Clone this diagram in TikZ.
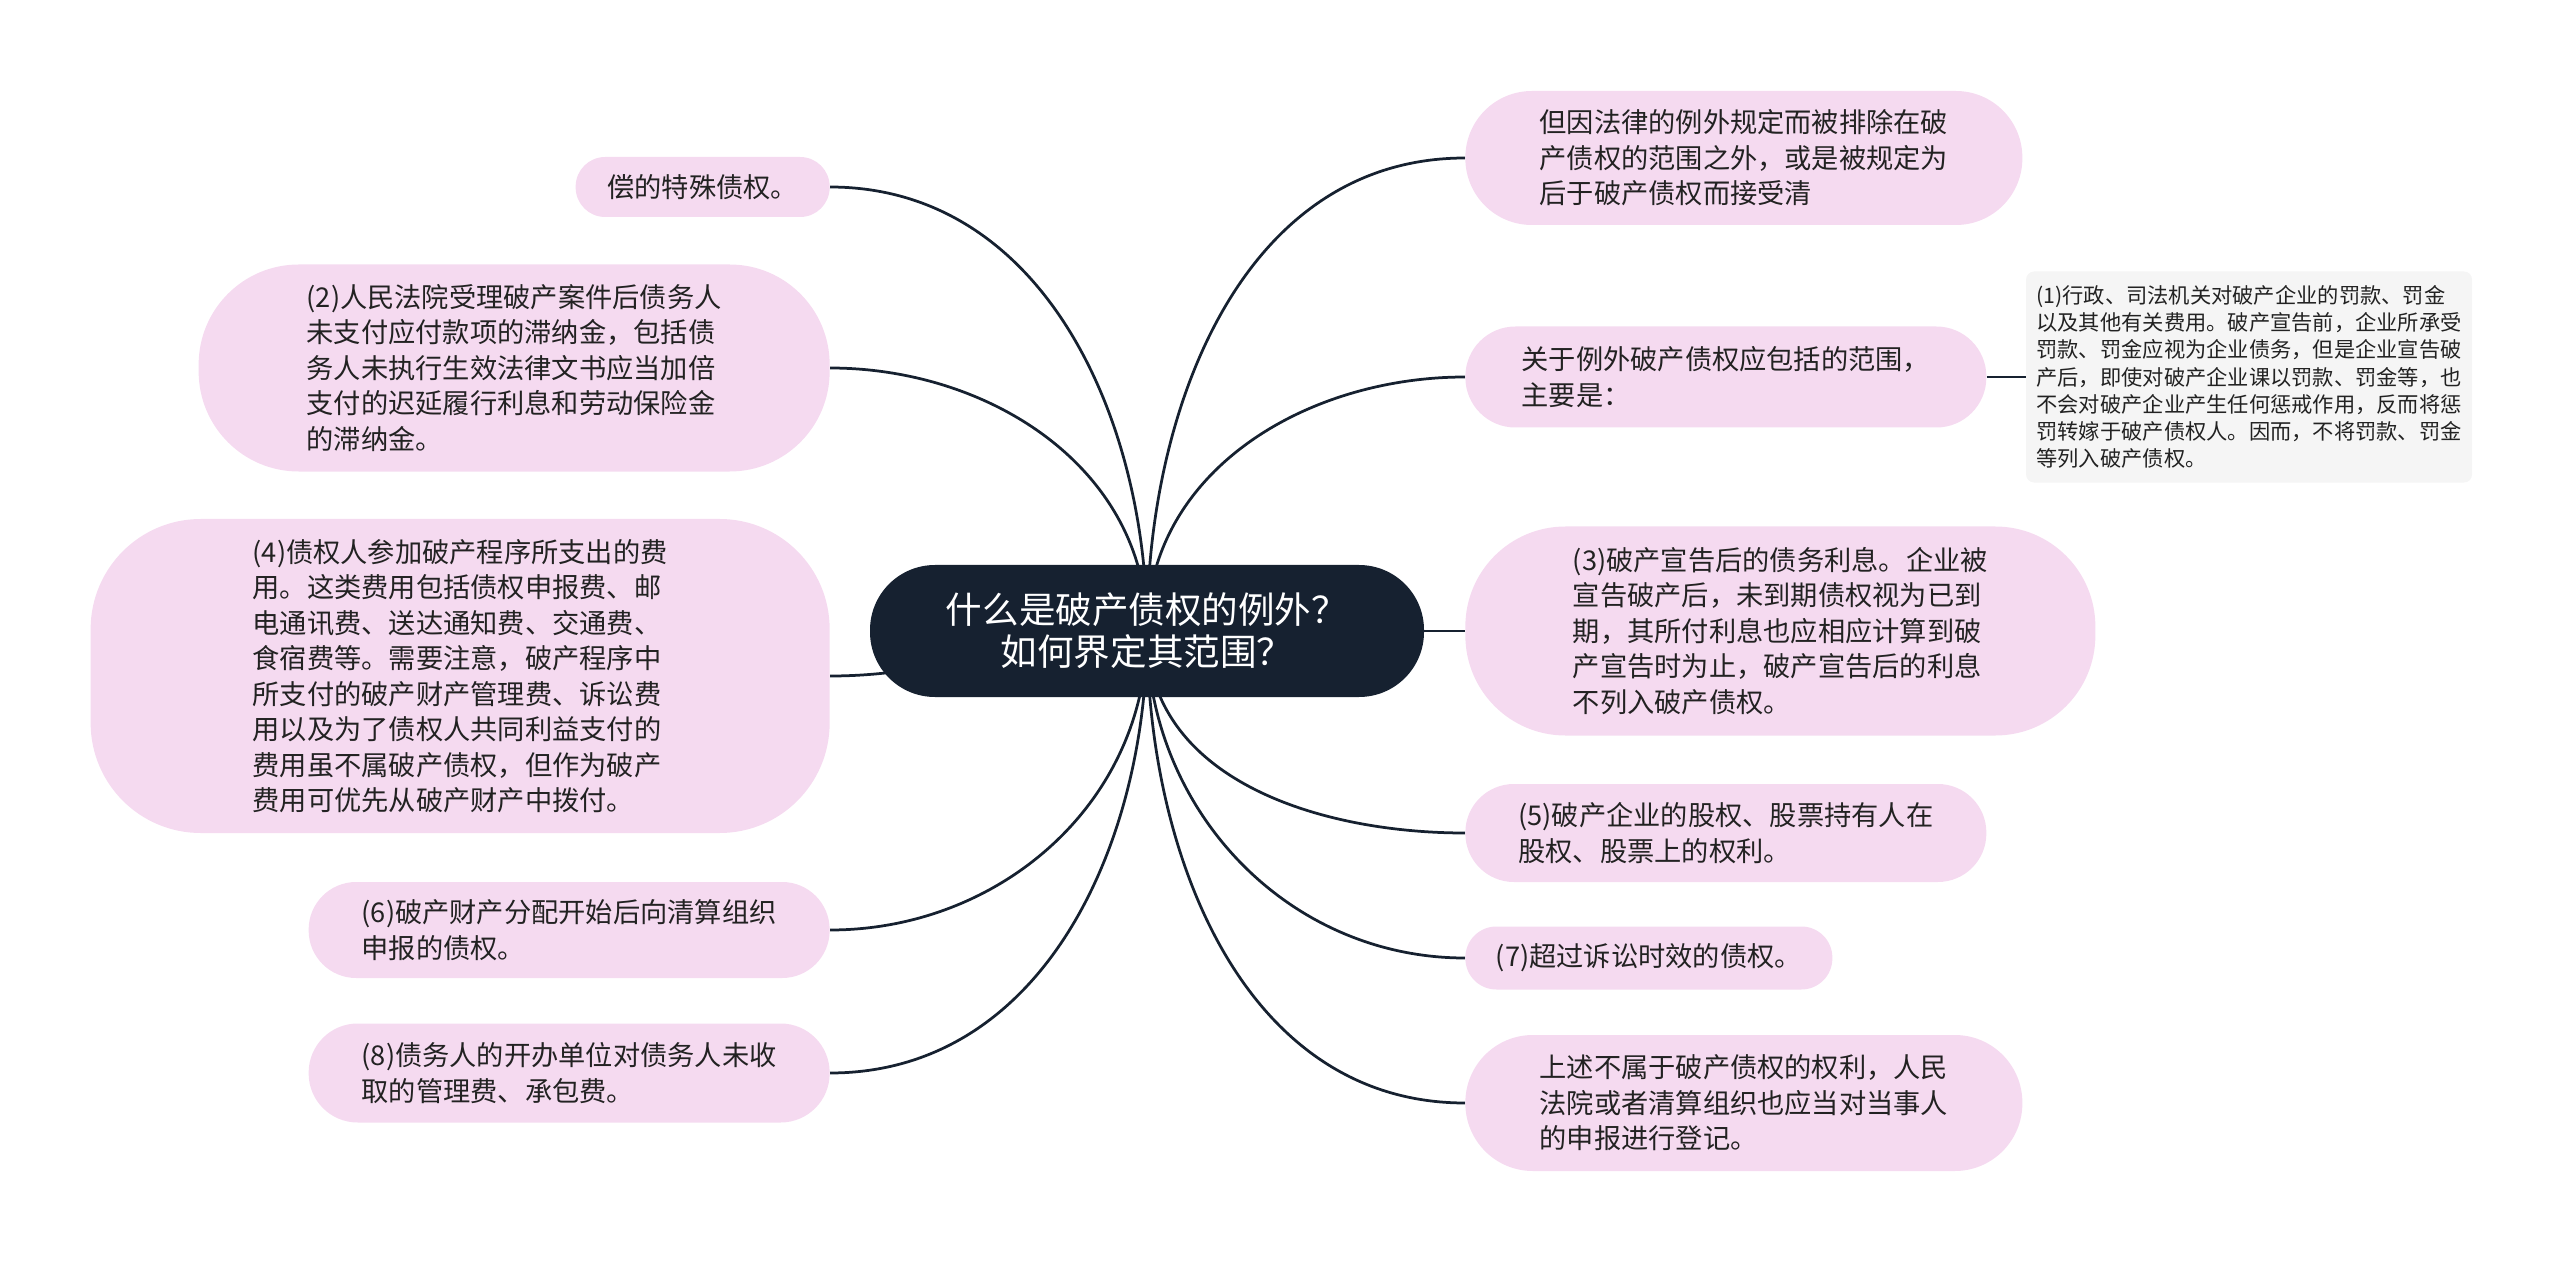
\documentclass[tikz,border=0pt]{standalone}
\usepackage{fontspec}
\setmainfont{Noto Sans CJK SC}
\usepackage{xcolor}
\usetikzlibrary{positioning, backgrounds}
\definecolor{rootnavy}{RGB}{22,33,48}
\definecolor{leafpink}{RGB}{245,218,240}
\definecolor{notegray}{RGB}{245,245,245}
\definecolor{inkgray}{RGB}{34,34,34}

\begin{document}
\begin{tikzpicture}[
    x=0.2mm, y=-0.2mm,
    root/.style={fill=rootnavy, text=white, rounded corners=13mm, minimum width=110.8mm, minimum height=26.4mm, align=center, inner sep=0pt, font=\fontsize{20.8}{24}\selectfont},
    leaf/.style={fill=leafpink, text=inkgray, rounded corners=#1, align=left, inner sep=0pt, font=\fontsize{15.5}{20.2}\selectfont},
    leaf/.default=9mm,
    note/.style={fill=notegray, text=inkgray, rounded corners=1.6mm, align=left, inner sep=0pt, font=\fontsize{12.1}{15.5}\selectfont},
    branch/.style={line width=0.55mm, rootnavy}
]
\useasboundingbox (0,0) rectangle (2560,1262);

% Root
\node[root] (root) at (1147,631) {什么是破产债权的例外？\\如何界定其范围？};

% Left branches
\node[leaf=5.9mm, anchor=east, minimum width=50.8mm, minimum height=12mm] (l1) at (830,187) {偿的特殊债权。};
\node[leaf=20mm, anchor=east, minimum width=126.2mm, minimum height=41.4mm] (l2) at (830,368) {(2)人民法院受理破产案件后债务人\\未支付应付款项的滞纳金，包括债\\务人未执行生效法律文书应当加倍\\支付的迟延履行利息和劳动保险金\\的滞纳金。};
\node[leaf=22mm, anchor=east, minimum width=147.8mm, minimum height=62.8mm] (l3) at (830,676) {(4)债权人参加破产程序所支出的费\\用。这类费用包括债权申报费、邮\\电通讯费、送达通知费、交通费、\\食宿费等。需要注意，破产程序中\\所支付的破产财产管理费、诉讼费\\用以及为了债权人共同利益支付的\\费用虽不属破产债权，但作为破产\\费用可优先从破产财产中拨付。};
\node[leaf=9.5mm, anchor=east, minimum width=104.2mm, minimum height=19.2mm] (l4) at (830,930) {(6)破产财产分配开始后向清算组织\\申报的债权。};
\node[leaf=9.8mm, anchor=east, minimum width=104.2mm, minimum height=19.8mm] (l5) at (830,1073) {(8)债务人的开办单位对债务人未收\\取的管理费、承包费。};

% Right branches
\node[leaf=13.3mm, anchor=west, minimum width=111.4mm, minimum height=26.8mm] (r1) at (1465,158) {但因法律的例外规定而被排除在破\\产债权的范围之外，或是被规定为\\后于破产债权而接受清};
\node[leaf=10mm, anchor=west, minimum width=104.2mm, minimum height=20.2mm] (r2) at (1465,377) {关于例外破产债权应包括的范围，\\主要是：};
\node[leaf=20mm, anchor=west, minimum width=126mm, minimum height=41.8mm] (r3) at (1465,631) {(3)破产宣告后的债务利息。企业被\\宣告破产后，未到期债权视为已到\\期，其所付利息也应相应计算到破\\产宣告时为止，破产宣告后的利息\\不列入破产债权。};
\node[leaf=9.7mm, anchor=west, minimum width=104.2mm, minimum height=19.6mm] (r4) at (1465,833) {(5)破产企业的股权、股票持有人在\\股权、股票上的权利。};
\node[leaf=6.2mm, anchor=west, minimum width=73.4mm, minimum height=12.6mm] (r5) at (1465,958) {(7)超过诉讼时效的债权。};
\node[leaf=13.5mm, anchor=west, minimum width=111.4mm, minimum height=27.2mm] (r6) at (1465,1103) {上述不属于破产债权的权利，人民\\法院或者清算组织也应当对当事人\\的申报进行登记。};

% Detail note
\node[note, right=7.8mm of r2, minimum width=89.2mm, minimum height=42.2mm] (n1) {(1)行政、司法机关对破产企业的罚款、罚金\\以及其他有关费用。破产宣告前，企业所承受\\罚款、罚金应视为企业债务，但是企业宣告破\\产后，即使对破产企业课以罚款、罚金等，也\\不会对破产企业产生任何惩戒作用，反而将惩\\罚转嫁于破产债权人。因而，不将罚款、罚金\\等列入破产债权。};

% Connectors
\begin{scope}[on background layer]
\draw[branch] (root.center) to[out=90, in=0] (l1.east);
\draw[branch] (root.center) to[out=90, in=0] (l2.east);
\draw[branch] (root.center) to[out=180, in=0] (l3.east);
\draw[branch] (root.center) to[out=-90, in=0] (l4.east);
\draw[branch] (root.center) to[out=-90, in=0] (l5.east);
\draw[branch] (root.center) to[out=90, in=180] (r1.west);
\draw[branch] (root.center) to[out=90, in=180] (r2.west);
\draw[branch] (root.center) -- (r3.west);
\draw[branch] (root.center) to[out=-90, in=180] (r4.west);
\draw[branch] (root.center) to[out=-90, in=180] (r5.west);
\draw[branch] (root.center) to[out=-90, in=180] (r6.west);
\draw[branch] (r2.east) -- (n1.west);
\end{scope}

\end{tikzpicture}
\end{document}
